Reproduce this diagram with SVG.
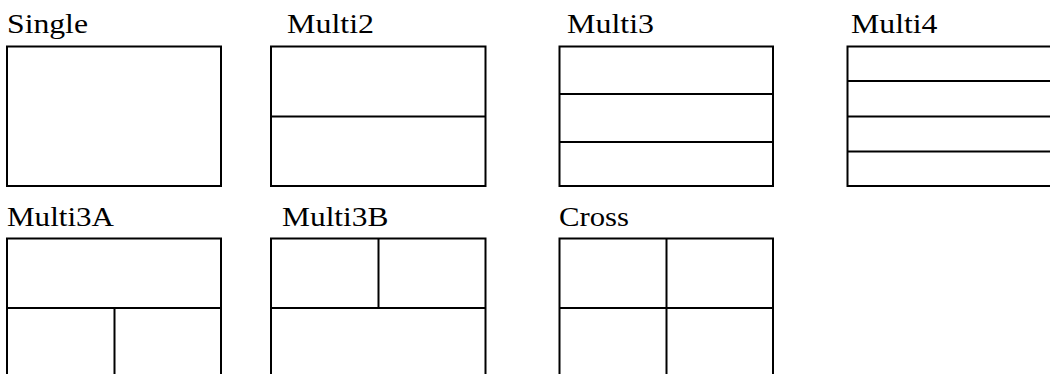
<svg xmlns="http://www.w3.org/2000/svg" width="1050" height="374" viewBox="0 0 1050 374">
<style>
.frame{fill:#fff;stroke:#000;stroke-width:2}
.div{stroke:#000;stroke-width:2;fill:none}
.lbl{font-family:"Liberation Serif","Times New Roman",serif;font-size:28px;fill:#000}
</style>
<rect width="1050" height="374" fill="#fff"/>
<g id="single">
<text class="lbl" x="7" y="33" textLength="81" lengthAdjust="spacingAndGlyphs">Single</text>
<rect class="frame" x="7" y="46.5" width="214" height="139.5"/>
</g>
<g id="multi2">
<text class="lbl" x="287" y="33" textLength="87" lengthAdjust="spacingAndGlyphs">Multi2</text>
<rect class="frame" x="271" y="46.5" width="214.5" height="139.5"/>
<line class="div" x1="271" y1="116.5" x2="485.5" y2="116.5"/>
</g>
<g id="multi3">
<text class="lbl" x="567" y="33" textLength="87" lengthAdjust="spacingAndGlyphs">Multi3</text>
<rect class="frame" x="559.5" y="46.5" width="213.5" height="139.5"/>
<line class="div" x1="559.5" y1="94" x2="773" y2="94"/>
<line class="div" x1="559.5" y1="142" x2="773" y2="142"/>
</g>
<g id="multi4">
<text class="lbl" x="851" y="33" textLength="86.5" lengthAdjust="spacingAndGlyphs">Multi4</text>
<rect class="frame" x="847.5" y="46.5" width="214" height="139.5"/>
<line class="div" x1="847.5" y1="81" x2="1061.5" y2="81"/>
<line class="div" x1="847.5" y1="116.5" x2="1061.5" y2="116.5"/>
<line class="div" x1="847.5" y1="151.5" x2="1061.5" y2="151.5"/>
</g>
<g id="multi3a">
<text class="lbl" x="7" y="225.5" textLength="107" lengthAdjust="spacingAndGlyphs">Multi3A</text>
<rect class="frame" x="7" y="238.5" width="214" height="139.5"/>
<line class="div" x1="7" y1="308" x2="221" y2="308"/>
<line class="div" x1="114.5" y1="308" x2="114.5" y2="378"/>
</g>
<g id="multi3b">
<text class="lbl" x="282" y="225.5" textLength="106.5" lengthAdjust="spacingAndGlyphs">Multi3B</text>
<rect class="frame" x="271" y="238.5" width="214.5" height="139.5"/>
<line class="div" x1="271" y1="308" x2="485.5" y2="308"/>
<line class="div" x1="378.5" y1="238.5" x2="378.5" y2="308"/>
</g>
<g id="cross">
<text class="lbl" x="559" y="225.5" textLength="70" lengthAdjust="spacingAndGlyphs">Cross</text>
<rect class="frame" x="559.5" y="238.5" width="213.5" height="139.5"/>
<line class="div" x1="559.5" y1="308" x2="773" y2="308"/>
<line class="div" x1="666.5" y1="238.5" x2="666.5" y2="378"/>
</g>
<g id="connectors"></g>
</svg>
